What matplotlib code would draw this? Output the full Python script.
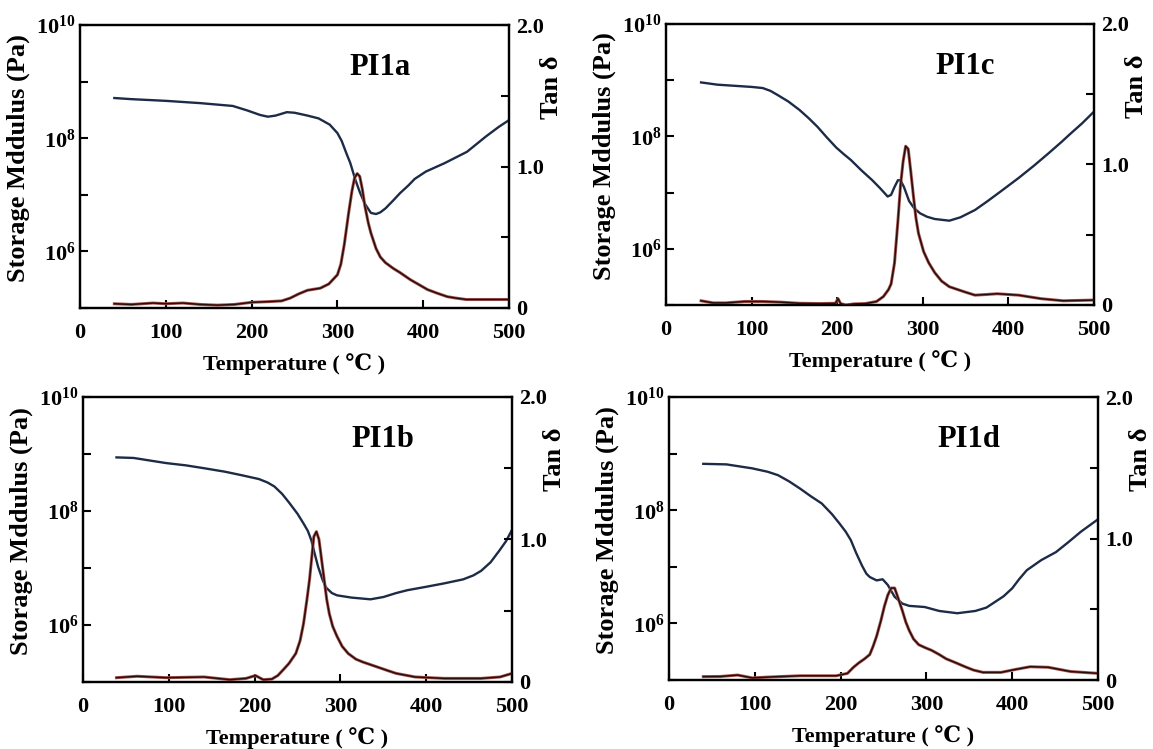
import numpy as np
import matplotlib
matplotlib.use('Agg')
import matplotlib.pyplot as plt
from matplotlib.ticker import FixedLocator, FixedFormatter

plt.rcParams['font.family'] = ['Liberation Serif', 'DejaVu Serif', 'Noto Sans CJK SC']
plt.rcParams['font.weight'] = 'bold'
plt.rcParams['mathtext.fontset'] = 'custom'
plt.rcParams['mathtext.rm'] = 'Liberation Serif:bold'
plt.rcParams['mathtext.bf'] = 'Liberation Serif:bold'
plt.rcParams['mathtext.it'] = 'Liberation Serif:bold'

# ---- data (modulus as log10 Pa) ----
pi1a_T_mod = [40, 60, 100, 140, 178, 195, 210, 219, 228, 241, 250, 265, 278, 291, 300, 305,
              310, 315, 321, 326, 332, 339, 345, 350, 356, 365, 373, 383, 390, 403, 425, 451,
              473, 488, 500]
pi1a_logE = [8.71, 8.69, 8.66, 8.62, 8.57, 8.49, 8.41, 8.38, 8.40, 8.46, 8.45, 8.40, 8.35,
             8.24, 8.09, 7.95, 7.75, 7.56, 7.26, 7.05, 6.84, 6.68, 6.66, 6.69, 6.76, 6.90,
             7.03, 7.17, 7.28, 7.41, 7.56, 7.76, 8.03, 8.20, 8.32]
pi1a_T_tan = [40, 60, 85, 100, 120, 140, 160, 180, 200, 220, 235, 245, 255, 265, 280, 290,
              300, 304, 308, 313, 317, 320, 323, 326, 329, 332, 336, 339, 345, 350, 356, 365,
              373, 385, 395, 405, 416, 428, 438, 450, 460, 500]
pi1a_tan = [0.03, 0.025, 0.035, 0.03, 0.035, 0.025, 0.02, 0.025, 0.04, 0.045, 0.05, 0.07,
            0.10, 0.125, 0.14, 0.17, 0.235, 0.31, 0.45, 0.67, 0.83, 0.92, 0.95, 0.93, 0.84,
            0.72, 0.60, 0.53, 0.42, 0.36, 0.32, 0.28, 0.25, 0.20, 0.165, 0.13, 0.105, 0.08,
            0.07, 0.06, 0.06, 0.06]

pi1c_T_mod = [41, 60, 80, 100, 113, 122, 130, 143, 156, 167, 177, 188, 199, 208, 216, 228,
              241, 250, 259, 263, 267, 271, 274, 278, 284, 290, 297, 305, 314, 331, 344, 361,
              375, 391, 412, 430, 447, 462, 472, 486, 500]
pi1c_logE = [8.96, 8.92, 8.90, 8.88, 8.86, 8.81, 8.74, 8.62, 8.47, 8.32, 8.17, 7.98, 7.80,
             7.68, 7.58, 7.40, 7.22, 7.08, 6.93, 6.96, 7.10, 7.22, 7.22, 7.10, 6.85, 6.72,
             6.63, 6.57, 6.53, 6.50, 6.56, 6.69, 6.84, 7.02, 7.26, 7.48, 7.70, 7.90, 8.04,
             8.23, 8.44]
pi1c_T_tan = [41, 55, 70, 92, 113, 135, 156, 180, 198, 201, 204, 210, 220, 233, 246, 254,
              260, 263, 267, 271, 274, 277, 280, 283, 286, 289, 292, 295, 301, 307, 314, 322,
              331, 348, 361, 375, 387, 412, 438, 464, 500]
pi1c_tan = [0.03, 0.015, 0.015, 0.025, 0.025, 0.02, 0.012, 0.01, 0.012, 0.045, 0.01, 0.0,
            0.008, 0.01, 0.025, 0.06, 0.11, 0.15, 0.30, 0.60, 0.85, 1.02, 1.13, 1.11, 0.95,
            0.78, 0.62, 0.51, 0.38, 0.30, 0.23, 0.17, 0.13, 0.095, 0.07, 0.075, 0.08, 0.07,
            0.045, 0.03, 0.035]

pi1b_T_mod = [39, 59, 80, 97, 120, 141, 165, 184, 205, 215, 223, 232, 240, 250, 257, 262,
              266, 270, 274, 279, 283, 290, 296, 313, 335, 350, 365, 378, 400, 421, 443, 455,
              464, 475, 485, 493, 500]
pi1b_logE = [8.94, 8.93, 8.88, 8.84, 8.80, 8.75, 8.69, 8.63, 8.56, 8.50, 8.43, 8.30, 8.15,
             7.95, 7.78, 7.65, 7.49, 7.25, 7.02, 6.80, 6.66, 6.56, 6.52, 6.48, 6.45, 6.49,
             6.56, 6.61, 6.67, 6.73, 6.80, 6.87, 6.95, 7.10, 7.30, 7.47, 7.67]
pi1b_T_tan = [39, 63, 97, 141, 171, 190, 201, 210, 220, 227, 234, 240, 248, 253, 257, 261,
              264, 267, 269, 272, 275, 278, 281, 284, 287, 291, 296, 302, 309, 318, 326, 343,
              355, 365, 387, 421, 464, 486, 500]
pi1b_tan = [0.03, 0.04, 0.03, 0.035, 0.016, 0.025, 0.045, 0.016, 0.02, 0.045, 0.09, 0.13,
            0.20, 0.29, 0.41, 0.58, 0.72, 0.90, 1.02, 1.055, 1.00, 0.86, 0.72, 0.58, 0.48,
            0.39, 0.32, 0.25, 0.20, 0.16, 0.14, 0.105, 0.08, 0.06, 0.035, 0.025, 0.025,
            0.035, 0.06]

pi1d_T_mod = [40, 67, 97, 115, 127, 140, 153, 165, 178, 190, 199, 206, 212, 218, 225, 230,
              234, 242, 249, 255, 263, 272, 280, 298, 315, 336, 357, 370, 379, 390, 400, 408,
              417, 434, 451, 465, 480, 500]
pi1d_logE = [8.82, 8.81, 8.74, 8.68, 8.62, 8.51, 8.38, 8.25, 8.12, 7.93, 7.76, 7.62, 7.47,
             7.25, 7.02, 6.88, 6.82, 6.76, 6.78, 6.68, 6.47, 6.35, 6.31, 6.29, 6.22, 6.18,
             6.22, 6.28, 6.37, 6.48, 6.62, 6.78, 6.94, 7.12, 7.26, 7.43, 7.62, 7.84]
pi1d_T_tan = [40, 60, 80, 97, 120, 153, 195, 208, 215, 221, 228, 234, 238, 242, 247, 251,
              255, 259, 263, 267, 272, 276, 280, 285, 291, 298, 306, 315, 323, 335, 345, 355,
              366, 387, 404, 421, 442, 468, 500]
pi1d_tan = [0.024, 0.025, 0.035, 0.015, 0.022, 0.03, 0.03, 0.047, 0.09, 0.12, 0.15, 0.18,
            0.24, 0.31, 0.42, 0.52, 0.60, 0.65, 0.65, 0.58, 0.49, 0.41, 0.35, 0.29, 0.25,
            0.23, 0.21, 0.18, 0.15, 0.12, 0.094, 0.07, 0.054, 0.054, 0.075, 0.094, 0.09,
            0.06, 0.047]

panels = [
    ('PI1a', pi1a_T_mod, pi1a_logE, pi1a_T_tan, pi1a_tan, [0.0694, 0.5888, 0.3721, 0.3778]),
    ('PI1c', pi1c_T_mod, pi1c_logE, pi1c_T_tan, pi1c_tan, [0.5776, 0.5928, 0.3712, 0.3752]),
    ('PI1b', pi1b_T_mod, pi1b_logE, pi1b_T_tan, pi1b_tan, [0.0720, 0.0895, 0.3721, 0.3805]),
    ('PI1d', pi1d_T_mod, pi1d_logE, pi1d_T_tan, pi1d_tan, [0.5802, 0.0921, 0.3721, 0.3778]),
]

mod_color = '#1d2b47'
tan_color = '#2a0c0a'
tan_halo = '#a85a55'

fig = plt.figure(figsize=(11.53, 7.49), dpi=100)

for name, tm, le, tt, tv, pos in panels:
    ax = fig.add_axes(pos)
    ax.plot(tm, 10 ** np.array(le), color=mod_color, lw=1.7, zorder=3)
    ax.set_yscale('log')
    ax.set_ylim(1e5, 1e10)
    ax.set_xlim(0, 500)
    ax.yaxis.set_major_locator(FixedLocator([1e5, 1e6, 1e7, 1e8, 1e9, 1e10]))
    ax.yaxis.set_major_formatter(FixedFormatter(['', r'$10^{6}$', '', r'$10^{8}$', '', r'$10^{10}$']))
    ax.yaxis.set_minor_locator(FixedLocator([]))
    ax.set_xticks([0, 100, 200, 300, 400, 500])
    ax.tick_params(direction='in', length=6, width=1.5, labelsize=16)
    ax.tick_params(axis='x', pad=11)
    ax.tick_params(axis='y', pad=3)
    for s in ax.spines.values():
        s.set_linewidth(1.6)
    ax.set_xlabel('Temperature ( ℃ )', fontsize=16, fontweight='bold', labelpad=7)
    ax.set_ylabel('Storage Mddulus (Pa)', fontsize=19, fontweight='bold')
    ax.yaxis.set_label_coords(-0.117, 0.53)
    ax.text(0.70, 0.85, name, transform=ax.transAxes, fontsize=22, fontweight='bold',
            ha='center', va='center')

    ax2 = ax.twinx()
    ax2.plot(tt, tv, color=tan_halo, lw=2.2, zorder=2)
    ax2.plot(tt, tv, color=tan_color, lw=1.1, zorder=3)
    ax2.set_ylim(0, 2.0)
    ax2.set_yticks([0, 0.5, 1.0, 1.5, 2.0])
    ax2.set_yticklabels(['0', '', '1.0', '', '2.0'])
    ax2.tick_params(direction='in', length=6, width=1.5, labelsize=16, pad=5)
    for s in ax2.spines.values():
        s.set_linewidth(1.6)
    ax2.text(1.10, 0.78, 'Tan δ', transform=ax2.transAxes, rotation=90, fontsize=19,
             fontweight='bold', ha='center', va='center')

fig.savefig('out.png', dpi=100)
